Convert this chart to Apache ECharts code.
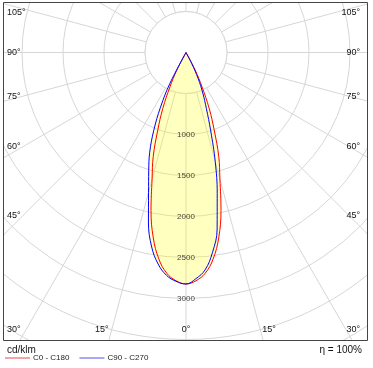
<!DOCTYPE html>
<html><head><meta charset="utf-8">
<script src="https://cdn.jsdelivr.net/npm/echarts@6/dist/echarts.min.js"></script>
<style>html,body{margin:0;padding:0;background:#fff}#c{width:373px;height:368px}</style>
</head><body><div id="c"></div>
<script>
// gamma angles (degrees from nadir)
const gammaDeg = [0, 2.5, 5, 7.5, 10, 12.5, 15, 17.5, 20, 22.5, 25, 27.5, 30];
// luminous intensity, cd/klm
const c0   = [2823, 2786, 2701, 2539, 2296, 1972, 1598, 1328, 1005, 740, 463, 242, 0];
const c180 = [2823, 2786, 2701, 2539, 2296, 1972, 1598, 1328, 1005, 740, 463, 242, 0];
const c90  = [2823, 2761, 2662, 2464, 2186, 1759, 1378, 1002, 725, 535, 350, 150, 0];
const c270 = [2823, 2793, 2728, 2602, 2409, 2117, 1764, 1512, 1294, 1026, 736, 423, 0];
const ringTicks = [1000, 1500, 2000, 2500, 3000];
const angleTicks = [105, 90, 75, 60, 45, 30, 15, 0];
const seriesNames = ['C0 - C180', 'C90 - C270'];
const unitLabel = 'cd/klm';
const effLabel = 'η = 100%';

const CX = 186, CY = 52.5, R_MAX = 4500, R_PX = 369;
const FONT = 'Liberation Sans, Arial, sans-serif';
const GRID = '#d6d6d6';

function curve(right, left) {
  const pts = [];
  for (let i = gammaDeg.length - 1; i >= 0; i--) pts.push([right[i], gammaDeg[i]]);
  for (let i = 1; i < gammaDeg.length; i++) pts.push([left[i], 360 - gammaDeg[i]]);
  return pts;
}
const envRight = c0.map((v, i) => Math.max(v, c90[i]));
const envLeft = c180.map((v, i) => Math.max(v, c270[i]));

// angle labels
const angleTexts = [];
function txt(t, x, y, align, size) {
  return { type: 'text', z: 52, x: x, y: y, silent: true,
    style: { text: t, fill: '#111', font: size + 'px ' + FONT, align: align, verticalAlign: 'middle' } };
}
angleTicks.forEach(a => {
  const s = a + '°';
  if (a === 0) { angleTexts.push(txt(s, CX, 330, 'center', 9)); return; }
  if (a < 30) {
    const d = (330 - CY) * Math.tan(a * Math.PI / 180);
    angleTexts.push(txt(s, CX - d - 3, 330, 'right', 9));
    angleTexts.push(txt(s, CX + d + 2, 330, 'left', 9));
    return;
  }
  let y = CY + 172 * 0.95 / Math.tan(a * Math.PI / 180);
  y = Math.max(13, Math.min(330, y));
  angleTexts.push(txt(s, 7, y, 'left', 9));
  angleTexts.push(txt(s, 360, y, 'right', 9));
});

const chart = echarts.init(document.getElementById('c'), null, { renderer: 'canvas' });
chart.setOption({
  animation: false,
  polar: { center: [CX, CY], radius: R_PX },
  angleAxis: {
    type: 'value', min: 0, max: 360, interval: 15, startAngle: 270, clockwise: false, z: 0,
    axisLine: { show: false }, axisTick: { show: false }, axisLabel: { show: false },
    splitLine: { show: true, lineStyle: { color: GRID, width: 1 } }
  },
  radiusAxis: {
    type: 'value', min: 0, max: R_MAX, interval: 500, z: 0,
    axisLine: { show: false }, axisTick: { show: false }, axisLabel: { show: false },
    splitLine: { show: true, lineStyle: { color: GRID, width: 1 } }
  },
  legend: {
    data: [
      { name: seriesNames[0], itemStyle: { color: '#f5a3a3', borderWidth: 0 } },
      { name: seriesNames[1], itemStyle: { color: '#a8a8f5', borderWidth: 0 } }
    ],
    left: 5, top: 354, icon: 'rect', itemWidth: 25, itemHeight: 2, itemGap: 10,
    padding: 0, z: 60, selectedMode: false,
    itemStyle: { borderWidth: 0 },
    textStyle: { fontSize: 8, color: '#222', fontFamily: FONT, padding: [0, 0, 0, -2] }
  },
  series: [
    { type: 'line', coordinateSystem: 'polar', z: 2, silent: true, symbol: 'none', smooth: 0.4,
      data: curve(envRight, envLeft),
      lineStyle: { width: 0, opacity: 0 },
      areaStyle: { color: 'rgba(255,255,0,0.25)', opacity: 1 } },
    { name: seriesNames[0], type: 'line', coordinateSystem: 'polar', z: 3, silent: true, symbol: 'none', smooth: 0.4,
      data: curve(c0, c180), lineStyle: { color: '#ff0000', width: 1 }, itemStyle: { color: '#ff0000' } },
    { name: seriesNames[1], type: 'line', coordinateSystem: 'polar', z: 3, silent: true, symbol: 'none', smooth: 0.4,
      data: curve(c90, c270), lineStyle: { color: '#0000ff', width: 1 }, itemStyle: { color: '#0000ff' } },
    { type: 'scatter', coordinateSystem: 'polar', z: 4, silent: true, symbolSize: 1,
      itemStyle: { color: 'rgba(0,0,0,0)' },
      data: ringTicks.map(v => [v, 0]),
      label: { show: true, position: 'inside', formatter: p => String(p.value[0]),
        fontSize: 8, color: '#111', fontFamily: FONT } }
  ],
  graphic: [
    { type: 'circle', z: 1, silent: true, shape: { cx: CX, cy: CY, r: 500 * R_PX / R_MAX },
      style: { fill: '#fff', stroke: GRID, lineWidth: 1 } },
    { type: 'rect', z: 50, silent: true, shape: { x: 0, y: 340.5, width: 373, height: 30 }, style: { fill: '#fff' } },
    { type: 'rect', z: 50, silent: true, shape: { x: 367.5, y: 0, width: 10, height: 368 }, style: { fill: '#fff' } },
    { type: 'rect', z: 50, silent: true, shape: { x: 0, y: 0, width: 3, height: 368 }, style: { fill: '#fff' } },
    { type: 'rect', z: 50, silent: true, shape: { x: 0, y: 0, width: 373, height: 2 }, style: { fill: '#fff' } },
    { type: 'rect', z: 51, silent: true, shape: { x: 3.5, y: 2.5, width: 364, height: 338 },
      style: { fill: 'none', stroke: '#444', lineWidth: 1 } },
    txt(unitLabel, 7, 350, 'left', 10),
    txt(effLabel, 362, 350, 'right', 10)
  ].concat(angleTexts)
});
</script>
</body></html>
